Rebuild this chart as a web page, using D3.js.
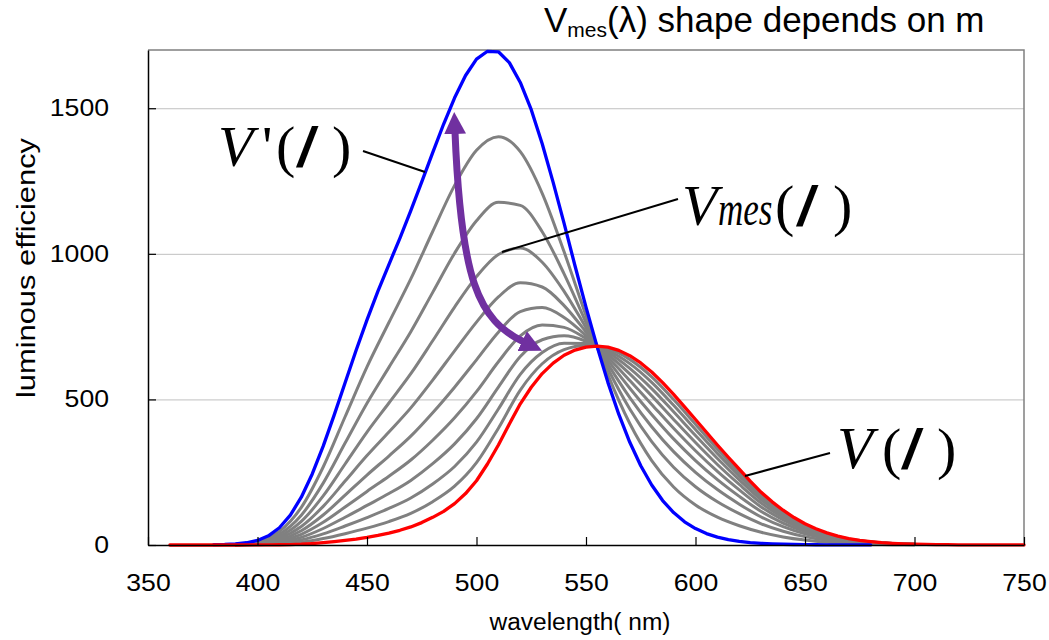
<!DOCTYPE html>
<html><head><meta charset="utf-8">
<script src="https://cdn.jsdelivr.net/npm/d3@7"></script>
<style>body{margin:0;background:#fff}svg{display:block}</style>
</head><body>
<svg id="chart" width="1049" height="640"></svg>
<script>
// ---------- data ----------
const xTicks = [350, 400, 450, 500, 550, 600, 650, 700, 750];
const yTicks = [0, 500, 1000, 1500];
const gridTicks = [500, 1000, 1500];

// photopic V(λ) (red), 360..750 nm step 5
const photopicWl = d3.range(360, 751, 5);
const photopicVals = [0.0,0.0,0.0,0.0,0.03,0.04,0.08,0.15,0.27,0.44,0.83,1.5,2.7,5.0,7.9,11.5,15.7,20.4,26.0,32.8,41.0,50.5,62.1,76.9,95.0,115.6,142.1,176.6,220.6,278.2,343.5,415.4,484.9,541.8,588.7,624.8,651.6,669.5,679.5,683.0,679.6,668.4,650.2,625.2,594.2,557.5,517.0,474.6,431.0,387.1,343.5,301.3,260.2,219.2,181.0,148.2,119.5,94.4,73.1,55.7,41.7,30.4,21.9,15.8,11.6,8.1,5.6,3.9,2.8,2.0,1.4,1.0,0.7,0.5,0.4,0.3,0.2,0.1,0.1];

// scotopic V'(λ) (blue), 380..680 nm step 5
const scotopicWl = d3.range(380, 681, 5);
const scotopicVals = [1.0,1.9,3.8,7.7,15.8,31.5,59.2,102.6,164.1,244.0,339.5,446.0,557.4,667.9,773.0,871.6,963.3,1053.4,1148.5,1247.1,1347.3,1445.8,1535.9,1612.4,1668.4,1695.6,1693.9,1656.5,1588.6,1495.1,1377.9,1245.4,1104.4,958.2,817.2,683.0,558.6,448.4,352.7,272.2,205.9,152.7,111.3,79.7,56.3,39.3,27.1,18.5,12.5,8.4,5.7,3.8,2.5,1.7,1.2,0.8,0.5,0.4,0.3,0.2,0.1];

// mesopic Vmes(λ) curves (grey)
const mesopicWl = [390,400,410,420,430,440,450,460,470,480,490,500,510,520,530,540,550,555,560,570,580,590,600,610,620,630,640,650,660,670,680,690,700];
const mes01 = [3.0,12.4,46.6,129.2,267.9,440.4,611.7,764.1,913.7,1076.7,1235.0,1355.4,1402.4,1350.8,1207.9,1006.8,787.8,683,585.1,417.3,290.1,199.2,137.5,95.6,66.1,43.7,27.8,16.8,9.4,4.9,2.6,1.2,0.6];
const mes02 = [2.4,9.9,36.8,102.3,212.5,350.0,486.9,610.1,732.3,867.6,1002.2,1113.7,1176.8,1166.3,1076.0,931.2,764.7,683,605.2,466.9,354.8,266.9,200.0,148.4,107.5,72.9,47.4,28.8,16.3,8.5,4.5,2.2,1.1];
const mes03 = [1.9,7.8,29.1,80.9,168.5,278.1,387.8,487.7,588.2,701.5,817.2,921.6,997.6,1019.8,971.2,871.1,746.4,683,621.2,506.3,406.3,320.7,249.7,190.4,140.3,96.2,62.9,38.3,21.8,11.4,6.0,2.9,1.4];
const mes04 = [1.5,6.1,22.8,63.5,132.7,219.6,307.2,388.2,471.0,566.4,666.9,765.5,851.9,900.6,886.0,822.2,731.5,683,634.2,538.4,448.2,364.4,290.1,224.5,167.0,115.1,75.5,46.1,26.2,13.7,7.3,3.5,1.8];
const mes05 = [1.2,4.7,17.5,49.0,103.0,171.1,240.3,305.6,373.7,454.2,542.0,635.9,731.0,801.7,815.3,781.6,719.1,683,645.0,565.0,482.9,400.7,323.6,252.8,189.2,130.7,86.0,52.5,29.9,15.7,8.3,4.0,2.0];
const mes06 = [0.9,3.6,13.2,36.8,78.0,130.3,184.0,236.1,291.9,359.9,437.0,526.8,629.2,718.5,755.8,747.5,708.7,683,654.1,587.4,512.1,431.3,351.8,276.6,207.8,143.9,94.8,57.9,33.0,17.3,9.2,4.4,2.2];
const mes07 = [0.6,2.6,9.4,26.4,56.7,95.4,135.9,176.7,221.9,279.2,347.2,433.5,542.2,647.4,704.9,718.3,699.8,683,661.9,606.5,537.1,457.4,375.9,297.0,223.8,155.2,102.3,62.5,35.6,18.7,9.9,4.8,2.4];
const mes08 = [0.4,1.7,6.1,17.5,38.2,65.3,94.3,125.4,161.4,209.5,269.6,353.0,467.0,585.9,660.9,693.0,692.1,683,668.6,623.0,558.7,479.9,396.8,314.6,237.6,165.0,108.8,66.5,37.9,19.9,10.5,5.1,2.5];
const mes09 = [0.3,1.0,3.3,9.6,22.1,38.9,58.0,80.5,108.6,148.6,201.8,282.6,401.3,532.2,622.5,671.0,685.4,683,674.4,637.5,577.6,499.6,415.0,330.0,249.6,173.5,114.5,70.0,39.9,21.0,11.1,5.4,2.7];
const mesopicSeries = [mes01, mes02, mes03, mes04, mes05, mes06, mes07, mes08, mes09];

// ---------- layout ----------
const svg = d3.select("#chart");
const M = {left: 148, right: 25, top: 50, bottom: 95};
const W = 1049, H = 640;
const x = d3.scaleLinear().domain([350, 750]).range([M.left, W - M.right]);
const y = d3.scaleLinear().domain([0, 1700]).range([H - M.bottom, M.top]);
const SANS = "'Liberation Sans', Arial, sans-serif";
const SERIF = "'Liberation Serif', 'Times New Roman', serif";

// grid
svg.append("g").attr("transform", `translate(${M.left},0)`)
  .call(d3.axisLeft(y).tickValues(gridTicks).tickSize(-(W - M.left - M.right)).tickFormat(""))
  .call(g => g.select(".domain").remove())
  .call(g => g.selectAll("line").attr("stroke", "#c0c0c0").attr("stroke-width", 1));

// frame top/right
svg.append("path")
  .attr("d", `M${M.left},${M.top}H${W - M.right}V${H - M.bottom}`)
  .attr("fill", "none").attr("stroke", "#808080").attr("stroke-width", 1.5);

// lines
const lineSmooth = d3.line().curve(d3.curveMonotoneX);
const lineLin = d3.line();
const gLines = svg.append("g").attr("fill", "none").attr("stroke-linejoin", "round").attr("stroke-linecap", "round");

mesopicSeries.forEach(vals => {
  gLines.append("path")
    .attr("d", lineSmooth(mesopicWl.map((w, i) => [x(w), y(vals[i])])))
    .attr("stroke", "#808080").attr("stroke-width", 3);
});
gLines.append("path")
  .attr("d", lineLin(scotopicWl.map((w, i) => [x(w), y(scotopicVals[i])])))
  .attr("stroke", "#0000ff").attr("stroke-width", 3.3);
gLines.append("path")
  .attr("d", lineLin(photopicWl.map((w, i) => [x(w), y(photopicVals[i])])))
  .attr("stroke", "#ff0000").attr("stroke-width", 3.3);

// axes
const fmt = d3.format("d");
const xAxis = svg.append("g").attr("transform", `translate(0,${H - M.bottom})`)
  .call(d3.axisBottom(x).tickValues(xTicks).tickFormat(fmt).tickSizeInner(-8).tickSizeOuter(0).tickPadding(30));
const yAxis = svg.append("g").attr("transform", `translate(${M.left},0)`)
  .call(d3.axisLeft(y).tickValues(yTicks).tickFormat(fmt).tickSizeInner(-8).tickSizeOuter(0).tickPadding(39));
[xAxis, yAxis].forEach(a => {
  a.select(".domain").attr("stroke", "#000").attr("stroke-width", 1.5);
  a.selectAll(".tick line").attr("stroke", "#000").attr("stroke-width", 1.2);
  a.selectAll("text").attr("font-family", SANS).attr("font-size", 23).attr("fill", "#000")
    .attr("textLength", d => String(d).length * 14.8).attr("lengthAdjust", "spacingAndGlyphs");
});

// axis titles
svg.append("text").attr("x", 580).attr("y", 630).attr("text-anchor", "middle")
  .attr("font-family", SANS).attr("font-size", 23)
  .attr("textLength", 181).attr("lengthAdjust", "spacingAndGlyphs")
  .text("wavelength( nm)");
svg.append("text").attr("transform", "translate(35,268) rotate(-90)").attr("text-anchor", "middle")
  .attr("font-family", SANS).attr("font-size", 26)
  .attr("textLength", 260).attr("lengthAdjust", "spacingAndGlyphs")
  .text("luminous efficiency");

// title
const title = svg.append("text").attr("x", 544).attr("y", 32)
  .attr("font-family", SANS).attr("font-size", 35).attr("fill", "#000");
title.append("tspan").text("V");
title.append("tspan").attr("font-size", 21).attr("dy", 5).text("mes");
title.append("tspan").attr("dy", -5).text("(λ) shape depends on m");

// annotations
function label(parts, baseline) {
  const t = svg.append("text").attr("y", baseline).attr("fill", "#000");
  parts.forEach(p => {
    t.append("tspan").attr("x", p.x).attr("font-family", p.sans ? SANS : SERIF)
      .attr("font-size", p.size).attr("font-style", p.italic ? "italic" : "normal")
      .attr("font-weight", p.bold ? "bold" : "normal")
      .text(p.t);
  });
}
label([
  {t: "V", x: 218, size: 58, italic: true},
  {t: "'", x: 262, size: 58},
  {t: "(", x: 276, size: 58},
  {t: "/", x: 298, size: 56, sans: true, bold: true, italic: true},
  {t: ")", x: 332, size: 58}
], 166);
label([
  {t: "V", x: 682, size: 58, italic: true},
  {t: "(", x: 775, size: 58},
  {t: "/", x: 798, size: 56, sans: true, bold: true, italic: true},
  {t: ")", x: 833, size: 58}
], 225);
// condensed italic subscript-like "mes"
svg.append("text").attr("transform", "translate(718,225) scale(0.73,1)")
  .attr("font-family", SERIF).attr("font-size", 48).attr("font-style", "italic").attr("fill", "#000")
  .text("mes");
label([
  {t: "V", x: 837, size: 59, italic: true},
  {t: "(", x: 882, size: 58},
  {t: "/", x: 903, size: 56, sans: true, bold: true, italic: true},
  {t: ")", x: 937, size: 58}
], 468);

// leader lines
const leaders = [[[363,151],[425,172]], [[678,199],[502,252]], [[830,453],[745,476]]];
svg.append("g").selectAll("line").data(leaders).join("line")
  .attr("x1", d => d[0][0]).attr("y1", d => d[0][1])
  .attr("x2", d => d[1][0]).attr("y2", d => d[1][1])
  .attr("stroke", "#000").attr("stroke-width", 2);

// purple double arrow
const defs = svg.append("defs");
defs.append("marker").attr("id", "ah").attr("markerUnits", "userSpaceOnUse")
  .attr("viewBox", "0 -11 22 22").attr("refX", 2).attr("refY", 0)
  .attr("markerWidth", 22).attr("markerHeight", 22).attr("orient", "auto-start-reverse")
  .append("path").attr("d", "M0,-11L22,0L0,11Z").attr("fill", "#7030a0");
svg.append("path")
  .attr("d", "M455,132 C461,280 478,320 524,342")
  .attr("fill", "none").attr("stroke", "#7030a0").attr("stroke-width", 7)
  .attr("marker-start", "url(#ah)").attr("marker-end", "url(#ah)");
</script>
</body></html>
